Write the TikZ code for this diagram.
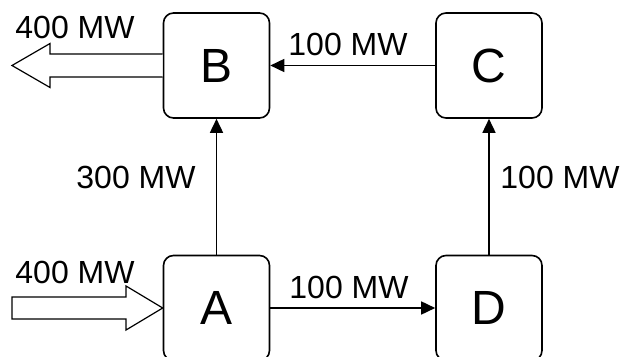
\documentclass[tikz,border=0pt]{standalone}
\usepackage{fontspec}
\setmainfont{Liberation Sans}
\usetikzlibrary{arrows.meta, positioning, calc}
\tikzset{
  >=Triangle,
  busbox/.style={draw=black, fill=white, line width=1.6pt, rounded corners=10pt, minimum width=106pt, minimum height=105pt, inner sep=0pt, font=\fontsize{48}{56}\selectfont},
  flowlabel/.style={inner sep=0pt, font=\fontsize{32}{38}\selectfont},
  flowarrow/.style={-{Triangle[length=14pt, width=13pt]}, line width=1.6pt},
  blockarrow/.style={draw=black, fill=white, line width=1.2pt}
}
\begin{document}
\begin{tikzpicture}[x=1pt, y=1pt]
    \useasboundingbox (0,0) rectangle (620,356);

    % --- EXTERNAL FLOWS (block arrows) ---
    \coordinate (outB) at (12, 290.5);
    \coordinate (inA) at (12, 48);
    \coordinate (headB) at (50, 290.5);
    \coordinate (headA) at (126, 48);

    % --- NODES ---
    \node[busbox] (B) at (216.5, 290.5) {B};
    \node[busbox] (C) at (489, 290.5) {C};
    \node[busbox] (A) at (216.5, 48) {A};
    \node[busbox] (D) at (489, 48) {D};

    % out of B
    \draw[blockarrow] ($(B.west)+(0,11.5)$) -- ($(headB)+(0,11.5)$) -- ($(headB)+(0,22)$) -- (outB)
        -- ($(headB)+(0,-22)$) -- ($(headB)+(0,-11.5)$) -- ($(B.west)+(0,-11.5)$);
    \node[flowlabel] (outlab) at (75, 329) {400 MW};

    % into A
    \draw[blockarrow] ($(inA)+(0,11)$) -- ($(headA)+(0,11)$) -- ($(headA)+(0,22)$) -- (A.west)
        -- ($(headA)+(0,-22)$) -- ($(headA)+(0,-11)$) -- ($(inA)+(0,-11)$) -- cycle;
    \node[flowlabel] (inlab) at (75, 84) {400 MW};

    % --- LINE FLOWS ---
    \draw[flowarrow] (A.north) -- (B.south);
    \node[flowlabel] (ablab) at (136, 179) {300 MW};

    \draw[flowarrow] (C.west) -- (B.east);
    \node[flowlabel] (cblab) at (348, 312) {100 MW};

    \draw[flowarrow] (A.east) -- (D.west);
    \node[flowlabel] (adlab) at (349, 69) {100 MW};

    \draw[flowarrow] (D.north) -- (C.south);
    \node[flowlabel] (dclab) at (560, 179) {100 MW};
\end{tikzpicture}
\end{document}
